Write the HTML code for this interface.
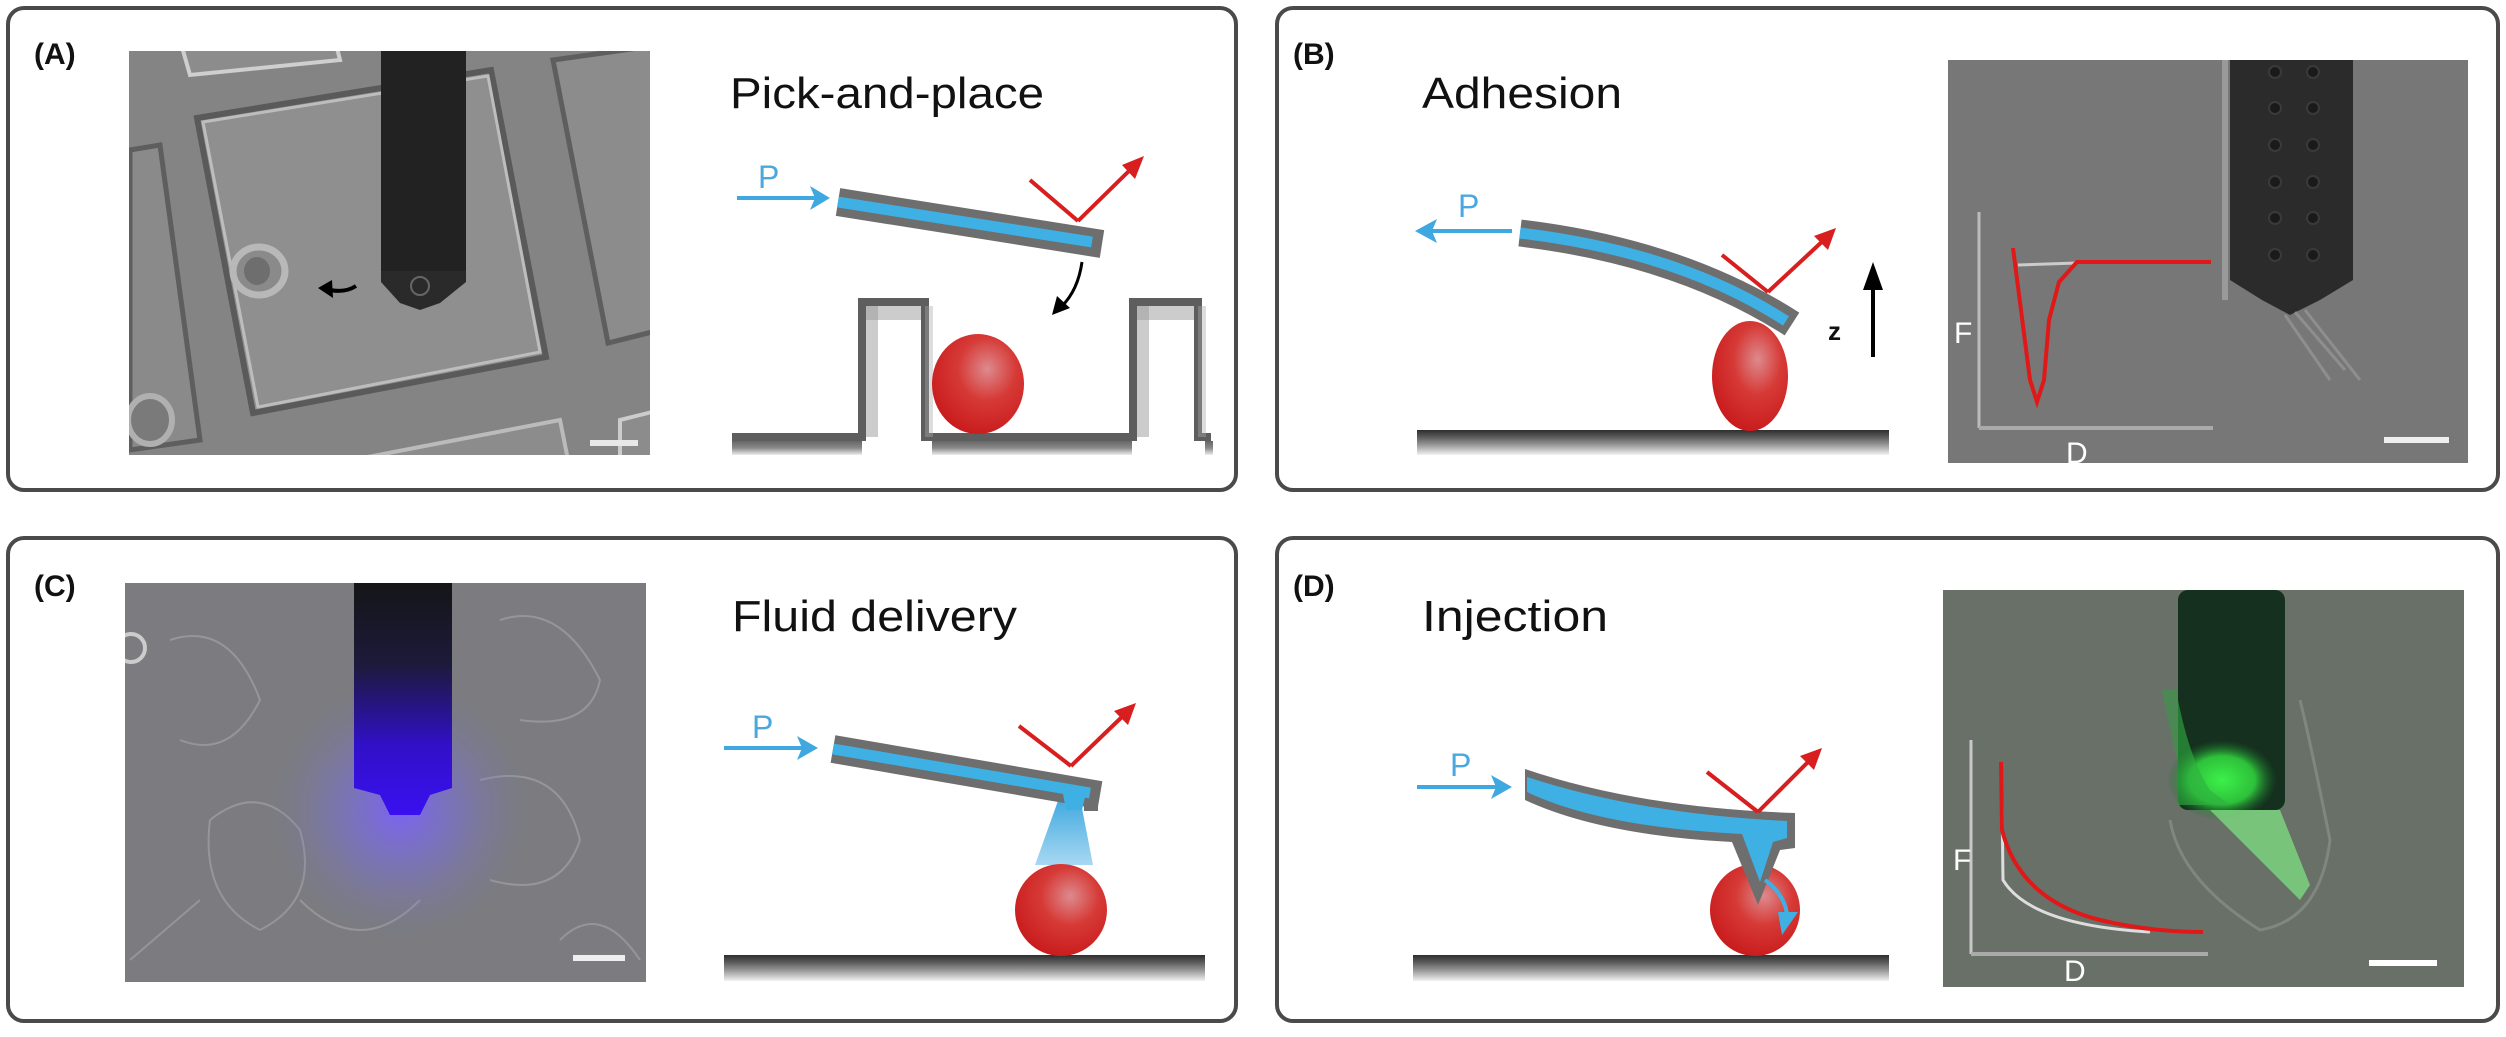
<!DOCTYPE html>
<html><head><meta charset="utf-8"><style>
html,body{margin:0;padding:0;background:#fff;}
svg{display:block;}
text{font-family:"Liberation Sans",sans-serif;}
</style></head><body>
<svg width="2506" height="1037" viewBox="0 0 2506 1037" xmlns="http://www.w3.org/2000/svg">
<defs>
<radialGradient id="cell" cx="0.6" cy="0.35" r="0.7">
<stop offset="0" stop-color="#dd8a8e"/><stop offset="0.45" stop-color="#d63a36"/><stop offset="1" stop-color="#c8191b"/>
</radialGradient>
<linearGradient id="sub" x1="0" y1="0" x2="0" y2="1">
<stop offset="0" stop-color="#2e2e2e"/><stop offset="0.25" stop-color="#555"/><stop offset="0.6" stop-color="#999"/><stop offset="1" stop-color="#f2f2f2"/>
</linearGradient>
<linearGradient id="subg" x1="0" y1="0" x2="0" y2="1">
<stop offset="0" stop-color="#666"/><stop offset="0.5" stop-color="#8a8a8a"/><stop offset="1" stop-color="#eee"/>
</linearGradient>
<linearGradient id="wallL" x1="0" y1="0" x2="1" y2="0">
<stop offset="0" stop-color="#555"/><stop offset="0.2" stop-color="#777"/><stop offset="0.35" stop-color="#eee"/><stop offset="1" stop-color="#fff"/>
</linearGradient>
<linearGradient id="pipC" x1="0" y1="0" x2="0" y2="1">
<stop offset="0" stop-color="#151518"/><stop offset="0.35" stop-color="#1c1a3a"/><stop offset="0.7" stop-color="#3110c8"/><stop offset="1" stop-color="#3a10f0"/>
</linearGradient>
<radialGradient id="glowC" cx="0.5" cy="0.5" r="0.5">
<stop offset="0" stop-color="#7a60ff" stop-opacity="0.9"/><stop offset="0.5" stop-color="#7a70e0" stop-opacity="0.45"/><stop offset="1" stop-color="#7a7aa0" stop-opacity="0"/>
</radialGradient>
<radialGradient id="greenB" cx="0.5" cy="0.5" r="0.5">
<stop offset="0" stop-color="#3cf04a"/><stop offset="0.6" stop-color="#2ec03a"/><stop offset="1" stop-color="#1a6a2a" stop-opacity="0"/>
</radialGradient>
<linearGradient id="cone" x1="0" y1="0" x2="0" y2="1">
<stop offset="0" stop-color="#3fa8e0"/><stop offset="1" stop-color="#a8d8f2"/>
</linearGradient>
<marker id="ab" markerWidth="10" markerHeight="10" refX="7" refY="5" orient="auto" markerUnits="userSpaceOnUse" viewBox="0 0 10 10">
</marker>
</defs>

<!-- Panel boxes -->
<rect x="8" y="8" width="1228" height="482" rx="16" fill="#fff" stroke="#4a4a4a" stroke-width="4"/>
<rect x="1277" y="8" width="1221" height="482" rx="16" fill="#fff" stroke="#4a4a4a" stroke-width="4"/>
<rect x="8" y="538" width="1228" height="483" rx="16" fill="#fff" stroke="#4a4a4a" stroke-width="4"/>
<rect x="1277" y="538" width="1221" height="483" rx="16" fill="#fff" stroke="#4a4a4a" stroke-width="4"/>

<!-- Labels -->
<text x="34" y="64" font-size="30" font-weight="bold" fill="#111">(A)</text>
<text x="1293" y="64" font-size="30" font-weight="bold" fill="#111">(B)</text>
<text x="34" y="596" font-size="30" font-weight="bold" fill="#111">(C)</text>
<text x="1293" y="596" font-size="30" font-weight="bold" fill="#111">(D)</text>

<text x="730" y="108" font-size="44" fill="#111" textLength="314" lengthAdjust="spacingAndGlyphs">Pick-and-place</text>
<text x="1422" y="108" font-size="44" fill="#111" textLength="200" lengthAdjust="spacingAndGlyphs">Adhesion</text>
<text x="732" y="631" font-size="44" fill="#111" textLength="285" lengthAdjust="spacingAndGlyphs">Fluid delivery</text>
<text x="1422" y="631" font-size="44" fill="#111" textLength="186" lengthAdjust="spacingAndGlyphs">Injection</text>

<!-- ===== Panel A photo ===== -->
<svg x="129" y="51" width="521" height="404" viewBox="129 51 521 404">
<rect x="129" y="51" width="521" height="404" fill="#848484"/>
<polygon points="197,118 491,70 546,357 253,413" fill="#8f8f8f" stroke="#5a5a5a" stroke-width="6"/>
<polygon points="203,122 488,76 540,352 258,407" fill="none" stroke="#bdbdbd" stroke-width="3"/>
<polygon points="553,60 660,45 660,330 608,343" fill="#8c8c8c" stroke="#5e5e5e" stroke-width="5"/>
<polygon points="130,150 160,145 200,440 130,450" fill="#8a8a8a" stroke="#5e5e5e" stroke-width="5"/>
<polygon points="180,40 330,20 340,60 190,75" fill="#8c8c8c" stroke="#cfcfcf" stroke-width="4"/>
<polygon points="300,470 560,420 570,470" fill="#8c8c8c" stroke="#bbb" stroke-width="4"/>
<polygon points="620,420 660,410 660,460 620,460" fill="#8c8c8c" stroke="#ccc" stroke-width="4"/>
<ellipse cx="259" cy="271" rx="26" ry="24" fill="#8a8a8a" stroke="#b8b8b8" stroke-width="7"/>
<ellipse cx="257" cy="271" rx="13" ry="14" fill="#6e6e6e"/>
<ellipse cx="150" cy="420" rx="22" ry="24" fill="#7a7a7a" stroke="#b0b0b0" stroke-width="6"/>
<path d="M381,51 H466 V282 L440,303 L420,310 L400,303 L381,282 Z" fill="#2a2a2a"/>
<rect x="381" y="51" width="85" height="220" fill="#222"/>
<circle cx="420" cy="286" r="9" fill="none" stroke="#666" stroke-width="2"/>
<path d="M356,286 Q345,293 330,290" stroke="#000" stroke-width="4" fill="none"/>
<polygon points="318,288 332,280 333,298" fill="#000"/>
<rect x="590" y="440" width="48" height="6" fill="#e8e8e8"/>
</svg>

<!-- Panel A schematic -->
<line x1="737" y1="198" x2="818" y2="198" stroke="#3fa8e0" stroke-width="4"/>
<polygon points="830,198 810,186 815,198 810,210" fill="#3fa8e0"/>
<text x="758" y="188" font-size="32" fill="#4aa8de">P</text>
<line x1="838" y1="202" x2="1102" y2="244" stroke="#6e6e6e" stroke-width="28"/>
<line x1="838" y1="202" x2="1092" y2="242" stroke="#3fb0e3" stroke-width="11"/>
<line x1="1030" y1="180" x2="1078" y2="221" stroke="#d81e1e" stroke-width="4"/>
<line x1="1078" y1="221" x2="1132" y2="168" stroke="#d81e1e" stroke-width="4"/>
<polygon points="1144,156 1122,165 1135,179" fill="#d81e1e"/>
<path d="M1082,262 Q1078,290 1062,306" stroke="#000" stroke-width="3" fill="none"/>
<polygon points="1052,315 1057,296 1070,308" fill="#000"/>
<!-- walls -->
<path d="M732,437 H862 V302 H925 V437 H1133 V302 H1198 V437 H1211" fill="none" stroke="#5e5e5e" stroke-width="8"/>
<rect x="732" y="441" width="130" height="14" fill="url(#subg)"/>
<rect x="932" y="441" width="200" height="14" fill="url(#subg)"/>
<rect x="1205" y="441" width="8" height="14" fill="url(#subg)"/>
<rect x="866" y="306" width="55" height="14" fill="#9a9a9a" opacity="0.5"/>
<rect x="1137" y="306" width="57" height="14" fill="#9a9a9a" opacity="0.5"/>
<rect x="866" y="306" width="12" height="131" fill="#9a9a9a" opacity="0.5"/>
<rect x="1137" y="306" width="12" height="131" fill="#9a9a9a" opacity="0.5"/>
<rect x="925" y="306" width="8" height="131" fill="#aaa" opacity="0.4"/>
<rect x="1198" y="306" width="8" height="131" fill="#aaa" opacity="0.4"/>
<ellipse cx="978" cy="384" rx="46" ry="50" fill="url(#cell)"/>

<!-- ===== Panel B schematic ===== -->
<line x1="1512" y1="231" x2="1428" y2="231" stroke="#3fa8e0" stroke-width="4"/>
<polygon points="1415,231 1437,219 1432,231 1437,243" fill="#3fa8e0"/>
<text x="1458" y="217" font-size="32" fill="#4aa8de">P</text>
<path d="M1520,233 Q1680,252 1792,324" fill="none" stroke="#6e6e6e" stroke-width="27"/>
<path d="M1520,233 Q1680,252 1786,321" fill="none" stroke="#3fb0e3" stroke-width="11"/>
<rect x="1417" y="430" width="472" height="25" fill="url(#sub)"/>
<ellipse cx="1750" cy="376" rx="38" ry="55" fill="url(#cell)"/>
<line x1="1722" y1="255" x2="1768" y2="292" stroke="#d81e1e" stroke-width="4"/>
<line x1="1768" y1="292" x2="1826" y2="238" stroke="#d81e1e" stroke-width="4"/>
<polygon points="1836,228 1814,236 1828,250" fill="#d81e1e"/>
<line x1="1873" y1="357" x2="1873" y2="280" stroke="#000" stroke-width="4"/>
<polygon points="1873,262 1863,290 1883,290" fill="#000"/>
<text x="1828" y="340" font-size="26" font-weight="bold" fill="#111">z</text>

<!-- Panel B photo -->
<svg x="1948" y="60" width="520" height="403" viewBox="1948 60 520 403">
<rect x="1948" y="60" width="520" height="403" fill="#777"/>
<rect x="2222" y="60" width="6" height="240" fill="#9a9a9a"/>
<path d="M2230,60 H2353 V280 L2320,300 L2290,315 L2262,300 L2230,280 Z" fill="#2b2b2b"/>
<g fill="#1a1a1a" stroke="#3a3a3a" stroke-width="2">
<circle cx="2275" cy="72" r="6"/><circle cx="2313" cy="72" r="6"/>
<circle cx="2275" cy="108" r="6"/><circle cx="2313" cy="108" r="6"/>
<circle cx="2275" cy="145" r="6"/><circle cx="2313" cy="145" r="6"/>
<circle cx="2275" cy="182" r="6"/><circle cx="2313" cy="182" r="6"/>
<circle cx="2275" cy="218" r="6"/><circle cx="2313" cy="218" r="6"/>
<circle cx="2275" cy="255" r="6"/><circle cx="2313" cy="255" r="6"/>
</g>
<path d="M2285,315 L2330,380 M2295,312 L2345,370 M2305,310 L2360,380" stroke="#999" stroke-width="3" opacity="0.7"/>
<line x1="1979" y1="212" x2="1979" y2="428" stroke="#bbb" stroke-width="3"/>
<line x1="1979" y1="428" x2="2213" y2="428" stroke="#aaa" stroke-width="4"/>
<line x1="2018" y1="265" x2="2077" y2="263" stroke="#ccc" stroke-width="3"/>
<polyline points="2013,248 2030,380 2037,402 2044,380 2049,320 2059,282 2077,262 2211,262" fill="none" stroke="#e01818" stroke-width="4"/>
<rect x="2384" y="437" width="65" height="6" fill="#eee"/>
</svg>
<text x="1954" y="343" font-size="30" fill="#fff">F</text>
<text x="2066" y="463" font-size="30" fill="#fff">D</text>

<!-- ===== Panel C photo ===== -->
<svg x="125" y="583" width="521" height="399" viewBox="125 583 521 399">
<rect x="125" y="583" width="521" height="399" fill="#7b7b80"/>
<g fill="none" stroke="#9c9ca0" stroke-width="2" opacity="0.8">
<path d="M210,820 Q260,780 300,830 Q320,900 260,930 Q200,900 210,820"/>
<path d="M480,780 Q560,760 580,840 Q560,900 490,880"/>
<path d="M170,640 Q230,620 260,700 Q230,760 180,740"/>
<path d="M500,620 Q560,600 600,680 Q590,730 520,720"/>
<path d="M300,900 Q360,960 420,900 M130,960 L200,900 M560,940 Q600,900 640,960"/>
</g>
<circle cx="400" cy="810" r="130" fill="url(#glowC)"/>
<path d="M354,583 H452 V788 L430,795 L420,815 L390,815 L380,795 L354,788 Z" fill="url(#pipC)"/>
<circle cx="131" cy="648" r="14" fill="none" stroke="#ccc" stroke-width="4"/>
<rect x="573" y="955" width="52" height="6" fill="#eee"/>
</svg>

<!-- Panel C schematic -->
<line x1="724" y1="748" x2="806" y2="748" stroke="#3fa8e0" stroke-width="4"/>
<polygon points="818,748 797,736 802,748 797,760" fill="#3fa8e0"/>
<text x="752" y="738" font-size="32" fill="#4aa8de">P</text>
<polygon points="1059,798 1080,798 1093,865 1035,865" fill="url(#cone)"/>
<line x1="833" y1="749" x2="1100" y2="795" stroke="#6e6e6e" stroke-width="28"/>
<rect x="1084" y="785" width="14" height="26" fill="#6e6e6e"/>
<line x1="833" y1="749" x2="1090" y2="793" stroke="#3fb0e3" stroke-width="11"/>
<polygon points="1062,789 1086,793 1082,810 1066,810" fill="#3fb0e3"/>
<rect x="724" y="955" width="481" height="26" fill="url(#sub)"/>
<ellipse cx="1061" cy="910" rx="46" ry="46" fill="url(#cell)"/>
<line x1="1019" y1="726" x2="1071" y2="766" stroke="#d81e1e" stroke-width="4"/>
<line x1="1071" y1="766" x2="1126" y2="713" stroke="#d81e1e" stroke-width="4"/>
<polygon points="1136,703 1114,711 1128,725" fill="#d81e1e"/>

<!-- ===== Panel D schematic ===== -->
<line x1="1417" y1="787" x2="1500" y2="787" stroke="#3fa8e0" stroke-width="4"/>
<polygon points="1512,787 1491,775 1496,787 1491,799" fill="#3fa8e0"/>
<text x="1450" y="776" font-size="32" fill="#4aa8de">P</text>
<rect x="1413" y="955" width="476" height="26" fill="url(#sub)"/>
<ellipse cx="1755" cy="910" rx="45" ry="46" fill="url(#cell)"/>
<path d="M1525,769 Q1640,808 1795,813 L1795,848 L1780,850 L1758,905 L1732,842 Q1600,835 1525,800 Z" fill="#6e6e6e"/>
<path d="M1527,777 Q1640,814 1787,821 L1787,838 L1773,842 L1760,882 L1742,834 Q1600,827 1527,792 Z" fill="#3fb0e3"/>
<path d="M1765,880 Q1785,895 1787,915" stroke="#3fb0e3" stroke-width="4" fill="none"/>
<polygon points="1778,912 1798,912 1782,935" fill="#3fb0e3"/>
<line x1="1707" y1="772" x2="1758" y2="812" stroke="#d81e1e" stroke-width="4"/>
<line x1="1758" y1="812" x2="1812" y2="758" stroke="#d81e1e" stroke-width="4"/>
<polygon points="1822,748 1800,756 1814,770" fill="#d81e1e"/>

<!-- Panel D photo -->
<svg x="1943" y="590" width="521" height="397" viewBox="1943 590 521 397">
<rect x="1943" y="590" width="521" height="397" fill="#687068"/>
<path d="M2170,820 Q2180,880 2260,930 Q2320,920 2330,840 Q2310,740 2300,700" fill="none" stroke="#8a908a" stroke-width="3" opacity="0.7"/>
<path d="M2162,690 Q2175,760 2190,805 L2285,805 L2285,690 Z" fill="#2ea040" opacity="0.5"/>
<rect x="2178" y="590" width="107" height="220" rx="10" fill="#15301f"/>
<ellipse cx="2222" cy="780" rx="55" ry="40" fill="url(#greenB)"/>
<path d="M2178,700 Q2190,760 2210,790 L2230,805 L2178,805 Z" fill="#2fb040" opacity="0.6"/>
<polygon points="2210,810 2280,810 2310,885 2300,900" fill="#7ee080" opacity="0.75"/>
<line x1="1971" y1="740" x2="1971" y2="954" stroke="#c8c8c8" stroke-width="3"/>
<line x1="1971" y1="954" x2="2208" y2="954" stroke="#aaa" stroke-width="4"/>
<path d="M2002,800 L2003,880 Q2030,925 2150,932" fill="none" stroke="#ddd" stroke-width="3"/>
<path d="M2001,762 L2002,830 Q2020,900 2100,920 Q2150,932 2203,932" fill="none" stroke="#e01818" stroke-width="4"/>
<rect x="2369" y="960" width="68" height="6" fill="#fff"/>
</svg>
<text x="1953" y="870" font-size="30" fill="#fff">F</text>
<text x="2064" y="981" font-size="30" fill="#fff">D</text>
</svg>
</body></html>
